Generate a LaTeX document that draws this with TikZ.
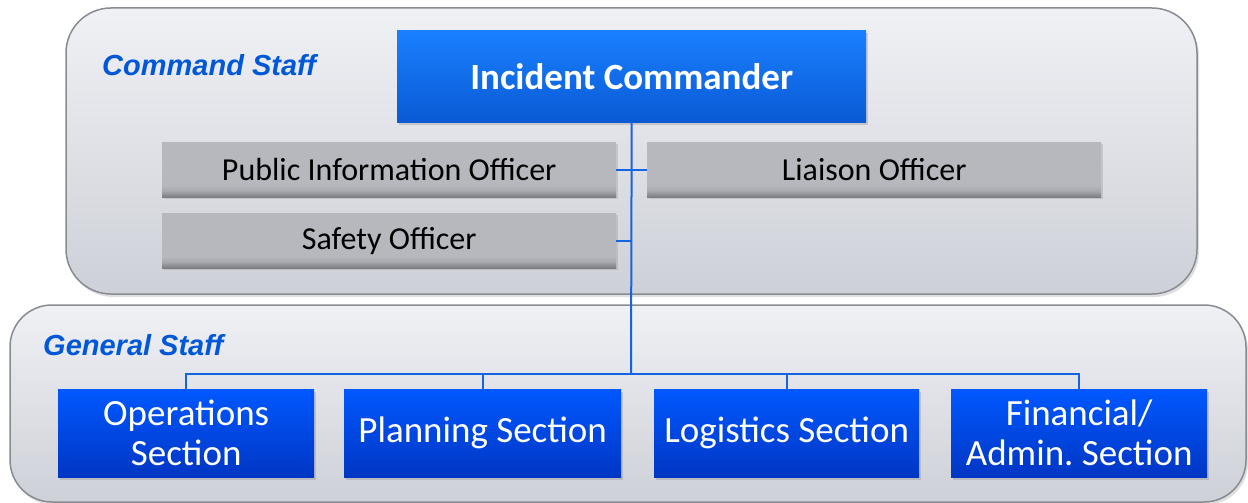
\documentclass[tikz,border=0pt]{standalone}
\usepackage{fontspec}
\setmainfont{Carlito}
\newfontfamily\arialfont{Liberation Sans}
\usetikzlibrary{shadows}
\frenchspacing
\definecolor{panelborder}{HTML}{878B92}
\definecolor{paneltop}{HTML}{F0F1F5}
\definecolor{panelbot}{HTML}{CDD0D7}
\definecolor{ictop}{HTML}{1A80FF}
\definecolor{icbot}{HTML}{0A5AD4}
\definecolor{graytop}{HTML}{B6B8BE}
\definecolor{graymid}{HTML}{A8AAB0}
\definecolor{graybot}{HTML}{7A7C81}
\definecolor{sectop}{HTML}{0058FF}
\definecolor{secbot}{HTML}{0036C4}
\definecolor{linkblue}{HTML}{1565E0}
\definecolor{labelblue}{HTML}{0058D8}
\pgfdeclareverticalshading{grayshade}{100bp}{color(0bp)=(graybot); color(25bp)=(graybot); color(31bp)=(graymid); color(36bp)=(graytop); color(75bp)=(graytop); color(100bp)=(graytop)}
\tikzset{
  panel/.style={draw=panelborder, line width=1.5pt, top color=paneltop, bottom color=panelbot,
    drop shadow={shadow xshift=2pt, shadow yshift=-3pt, opacity=0.25}},
  icbox/.style={anchor=north west, inner sep=0pt, top color=ictop, bottom color=icbot,
    text=white, font=\fontsize{37}{40}\selectfont\bfseries, align=center,
    drop shadow={shadow xshift=2pt, shadow yshift=-3pt, opacity=0.3}},
  officer/.style={anchor=north west, inner sep=0pt, minimum width=454pt, minimum height=55pt,
    shading=grayshade,
    text=black, font=\fontsize{32}{36}\selectfont, align=center,
    drop shadow={shadow xshift=1.5pt, shadow yshift=-2pt, opacity=0.25}},
  section/.style={anchor=north west, inner sep=0pt, minimum height=88pt,
    top color=sectop, bottom color=secbot,
    text=white, font=\fontsize{37}{40}\selectfont, align=center,
    drop shadow={shadow xshift=2pt, shadow yshift=-3pt, opacity=0.3}},
  grouplabel/.style={anchor=base west, inner sep=0pt, text=labelblue,
    font=\arialfont\fontsize{29}{32}\selectfont\bfseries\itshape},
  link/.style={draw=linkblue, line width=2pt}
}
\begin{document}
\begin{tikzpicture}[x=1pt,y=-1pt]
\useasboundingbox (0,0) rectangle (1248,503);
% panels
\path[panel, rounded corners=45pt] (66,8) rectangle (1197,294);
\path[panel, rounded corners=42pt] (10,305) rectangle (1246,502);
\node[grouplabel] (cmdlabel) at (102,76) {Command Staff};
\node[grouplabel] (genlabel) at (43,355) {General Staff};
% command staff
\node[icbox, minimum width=469pt, minimum height=92pt] (ic) at (397,30) {Incident Commander};
\node[officer] (pio) at (162,142) {Public Information Officer};
\node[officer] (liaison) at (647,142) {Liaison Officer};
\node[officer] (safety) at (162,213) {Safety Officer};
% general staff
\node[section, minimum width=256pt] (ops) at (58,389) {Operations\\Section};
\node[section, minimum width=277pt] (plan) at (344,389) {Planning Section};
\node[section, minimum width=265pt] (logi) at (654,389) {Logistics Section};
\node[section, minimum width=256pt] (fin) at (951,389) {Financial/\\Admin. Section};
% connectors
\coordinate (bus) at (631,374);
\draw[link] (ic.south) -- (bus);
\draw[link] (pio.east) -- (liaison.west);
\draw[link] (safety.east) -- (safety.east -| ic.south);
\draw[link] (ops.north) |- (bus);
\draw[link] (bus) -| (fin.north);
\draw[link] (plan.north) -- (plan.north |- bus);
\draw[link] (logi.north) -- (logi.north |- bus);
\end{tikzpicture}
\end{document}
